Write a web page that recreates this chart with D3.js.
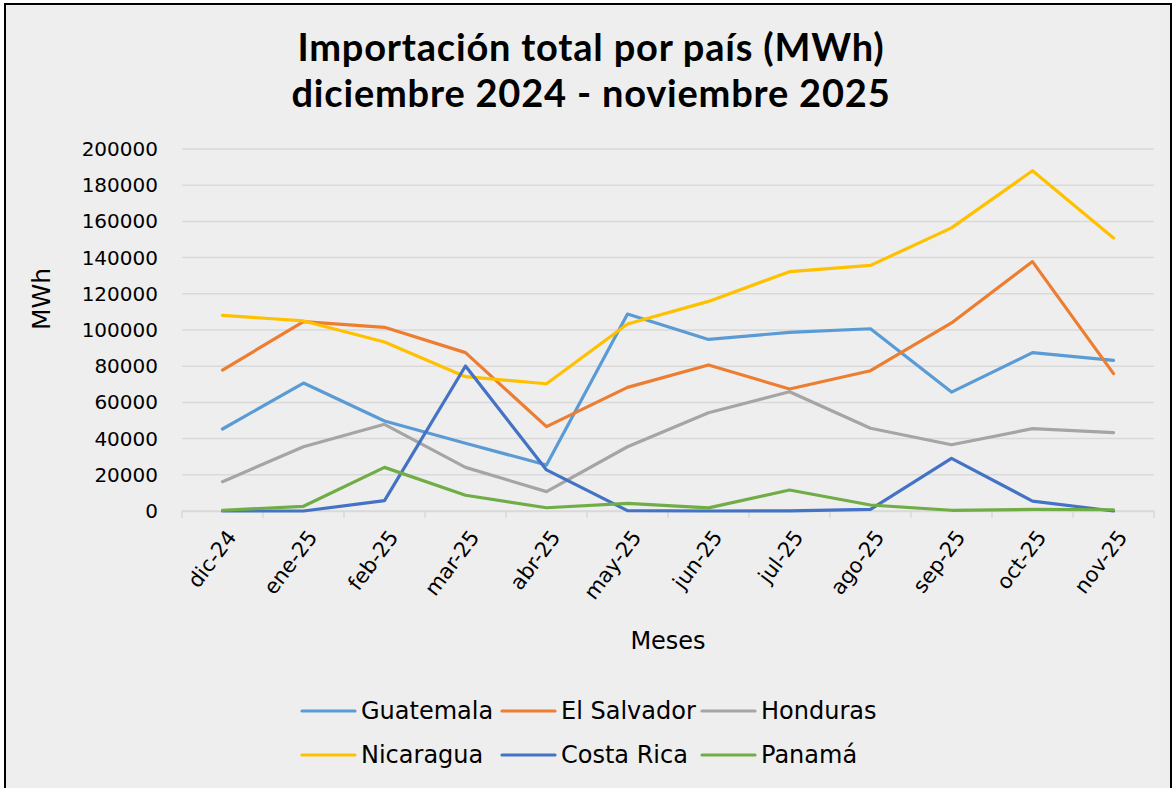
<!DOCTYPE html>
<html>
<head>
<meta charset="utf-8">
<script src="https://cdn.jsdelivr.net/npm/d3@7"></script>
<style>
  body { margin: 0; background: #ffffff; }
  text { font-family: "Century Gothic", "DejaVu Sans", sans-serif; fill: #000; }
  .title { font-family: "Century Gothic", Lato, sans-serif; font-weight: bold; font-size: 38px; letter-spacing: 0.8px; }
</style>
</head>
<body>
<div id="chart"></div>
<script>
var months = ["dic-24", "ene-25", "feb-25", "mar-25", "abr-25", "may-25",
  "jun-25", "jul-25", "ago-25", "sep-25", "oct-25", "nov-25"];

var guatemala = [45300, 70700, 49700, 37400, 25400, 108800, 94800, 98700, 100700, 65700, 87500, 83200];
var elSalvador = [77900, 104600, 101500, 87500, 46600, 68300, 80700, 67400, 77500, 103900, 137800, 75900];
var honduras = [16200, 35500, 47900, 24100, 10700, 35500, 54300, 65900, 45700, 36600, 45500, 43300];
var nicaragua = [108100, 105000, 93400, 74200, 70300, 103300, 115800, 132200, 135700, 156400, 188000, 150800];
var costaRica = [0, 0, 5700, 80100, 22700, 200, 0, 100, 900, 29100, 5500, 0];
var panama = [400, 2600, 24100, 8700, 1800, 4200, 1700, 11600, 3300, 400, 900, 700];

var yTicks = [0, 20000, 40000, 60000, 80000, 100000, 120000, 140000, 160000, 180000, 200000];

var series = [
  { name: "Guatemala", values: guatemala, color: "#5B9BD5" },
  { name: "El Salvador", values: elSalvador, color: "#ED7D31" },
  { name: "Honduras", values: honduras, color: "#A5A5A5" },
  { name: "Nicaragua", values: nicaragua, color: "#FFC000" },
  { name: "Costa Rica", values: costaRica, color: "#4472C4" },
  { name: "Panamá", values: panama, color: "#70AD47" }
];

var W = 1176, H = 788;
var margin = { top: 149, right: 22, bottom: 277, left: 182 },
  width = W - margin.left - margin.right,
  height = H - margin.top - margin.bottom;

var root = d3.select("#chart").append("svg")
  .attr("width", W)
  .attr("height", H);

// chart frame
root.append("rect")
  .attr("x", 5).attr("y", 4)
  .attr("width", W - 10).attr("height", H + 10)
  .attr("fill", "#EEEEEE")
  .attr("stroke", "#000")
  .attr("stroke-width", 2);

// title
root.append("text")
  .attr("class", "title")
  .attr("x", 591).attr("y", 61)
  .attr("text-anchor", "middle")
  .text("Importación total por país (MWh)");
root.append("text")
  .attr("class", "title")
  .attr("x", 591).attr("y", 107)
  .attr("text-anchor", "middle")
  .text("diciembre 2024 - noviembre 2025");

var svg = root.append("g")
  .attr("transform", "translate(" + margin.left + "," + margin.top + ")");

var x = d3.scaleBand().domain(months).range([0, width]);
var y = d3.scaleLinear().domain([0, 200000]).range([height, 0]);

// gridlines
svg.append("g")
  .selectAll("line")
  .data(yTicks)
  .enter()
  .append("line")
  .attr("x1", 0).attr("x2", width)
  .attr("y1", function (d) { return y(d); })
  .attr("y2", function (d) { return y(d); })
  .attr("stroke", "#D9D9D9")
  .attr("stroke-width", 1.5);

// y axis labels
var yAxis = svg.append("g")
  .call(d3.axisLeft(y).tickValues(yTicks).tickSize(0).tickPadding(24).tickFormat(d3.format("d")));
yAxis.select(".domain").remove();
yAxis.selectAll("text").style("font-size", "20px").style("font-family", null);

// x axis line
var xAxis = svg.append("g")
  .attr("transform", "translate(0," + height + ")")
  .call(d3.axisBottom(x).tickSize(0).tickSizeOuter(0).tickFormat(""));
xAxis.select(".domain").attr("stroke", "#D9D9D9").attr("stroke-width", 1.5);

// tick marks at the band edges
svg.append("g")
  .selectAll("line")
  .data(months.concat(["end"]))
  .enter()
  .append("line")
  .attr("x1", function (d, i) { return i * x.step(); })
  .attr("x2", function (d, i) { return i * x.step(); })
  .attr("y1", height)
  .attr("y2", height + 7)
  .attr("stroke", "#D9D9D9")
  .attr("stroke-width", 1.5);

svg.append("g")
  .selectAll("text")
  .data(months)
  .enter()
  .append("text")
  .attr("transform", function (d) {
    return "translate(" + (x(d) + x.bandwidth() / 2 + 9) + "," + (height + 22) + ") rotate(-53)";
  })
  .attr("text-anchor", "end")
  .attr("dy", "0.35em")
  .style("font-size", "21px")
  .text(function (d) { return d; });

// axis titles
svg.append("text")
  .attr("x", 486).attr("y", height + 138)
  .attr("text-anchor", "middle")
  .style("font-size", "24px")
  .text("Meses");

svg.append("text")
  .attr("transform", "translate(-141," + (height / 2 - 31) + ") rotate(-90)")
  .attr("text-anchor", "middle")
  .attr("dy", "0.35em")
  .style("font-size", "25px")
  .text("MWh");

// lines
var line = d3.line()
  .x(function (d, i) { return x(months[i]) + x.bandwidth() / 2; })
  .y(function (d) { return y(d); });

svg.append("g")
  .selectAll("path")
  .data(series)
  .enter()
  .append("path")
  .attr("d", function (d) { return line(d.values); })
  .attr("fill", "none")
  .attr("stroke", function (d) { return d.color; })
  .attr("stroke-width", 3.2)
  .attr("stroke-linejoin", "round")
  .attr("stroke-linecap", "round");

// legend
var legendPos = [[302, 711], [502, 711], [702, 711], [302, 755], [502, 755], [702, 755]];
var legend = root.append("g")
  .selectAll("g")
  .data(series)
  .enter()
  .append("g")
  .attr("transform", function (d, i) { return "translate(" + legendPos[i][0] + "," + legendPos[i][1] + ")"; });

legend.append("line")
  .attr("x1", 0).attr("x2", 53)
  .attr("stroke", function (d) { return d.color; })
  .attr("stroke-width", 3.2)
  .attr("stroke-linecap", "round");

legend.append("text")
  .attr("x", 59)
  .attr("dy", "0.35em")
  .style("font-size", "24px")
  .text(function (d) { return d.name; });
</script>
</body>
</html>
